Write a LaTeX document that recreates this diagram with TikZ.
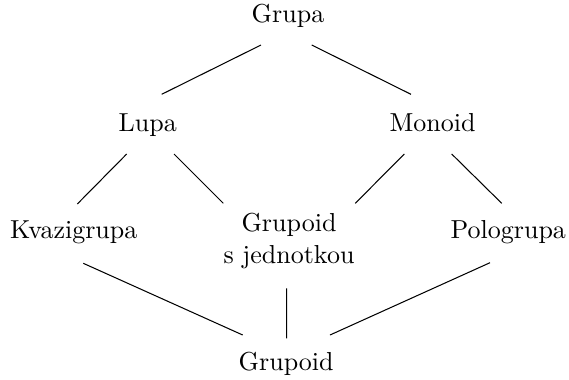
\documentclass[tikz,border=0pt]{standalone}
\begin{document}
\begin{tikzpicture}[x=0.3846pt,y=-0.3846pt,
  lbl/.style={anchor=base,inner sep=0pt,font=\normalsize},
  conn/.style={line width=0.4pt}]
\useasboundingbox (0,0) rectangle (569,379);
\node[lbl] (grupa) at (288,22.7) {Grupa};
\node[lbl] (lupa) at (147.8,131.7) {Lupa};
\node[lbl] (monoid) at (432.5,131.7) {Monoid};
\node[lbl] (kvazi) at (73.8,238.3) {Kvazigrupa};
\node[inner sep=0pt,align=center,anchor=center] (gsj) at (289,241) {Grupoid\\s jednotkou};
\node[lbl] (polo) at (508.3,238.3) {Pologrupa};
\node[lbl] (grupoid) at (286.2,370) {Grupoid};
\draw[conn] ([shift={(-27,22.3)}]grupa.base) -- ([shift={(13.9,-37.4)}]lupa.base);
\draw[conn] ([shift={(23.7,22.3)}]grupa.base) -- ([shift={(-21.5,-37.4)}]monoid.base);
\draw[conn] ([shift={(-21.1,22.3)}]lupa.base) -- ([shift={(3.5,-34.3)}]kvazi.base);
\draw[conn] ([shift={(26.2,22.3)}]lupa.base) -- ([shift={(-65.7,-37.7)}]gsj.center);
\draw[conn] ([shift={(-28.2,22.3)}]monoid.base) -- ([shift={(66.3,-37.7)}]gsj.center);
\draw[conn] ([shift={(19.2,22.3)}]monoid.base) -- ([shift={(-6.6,-35)}]polo.base);
\draw[conn] ([shift={(9.5,25)}]kvazi.base) -- ([shift={(-43.5,-35)}]grupoid.base);
\draw[conn] ([shift={(-2.3,47.3)}]gsj.center) -- ([shift={(0.5,-31.7)}]grupoid.base);
\draw[conn] ([shift={(-18.3,24.4)}]polo.base) -- ([shift={(43.8,-35)}]grupoid.base);
\end{tikzpicture}
\end{document}
